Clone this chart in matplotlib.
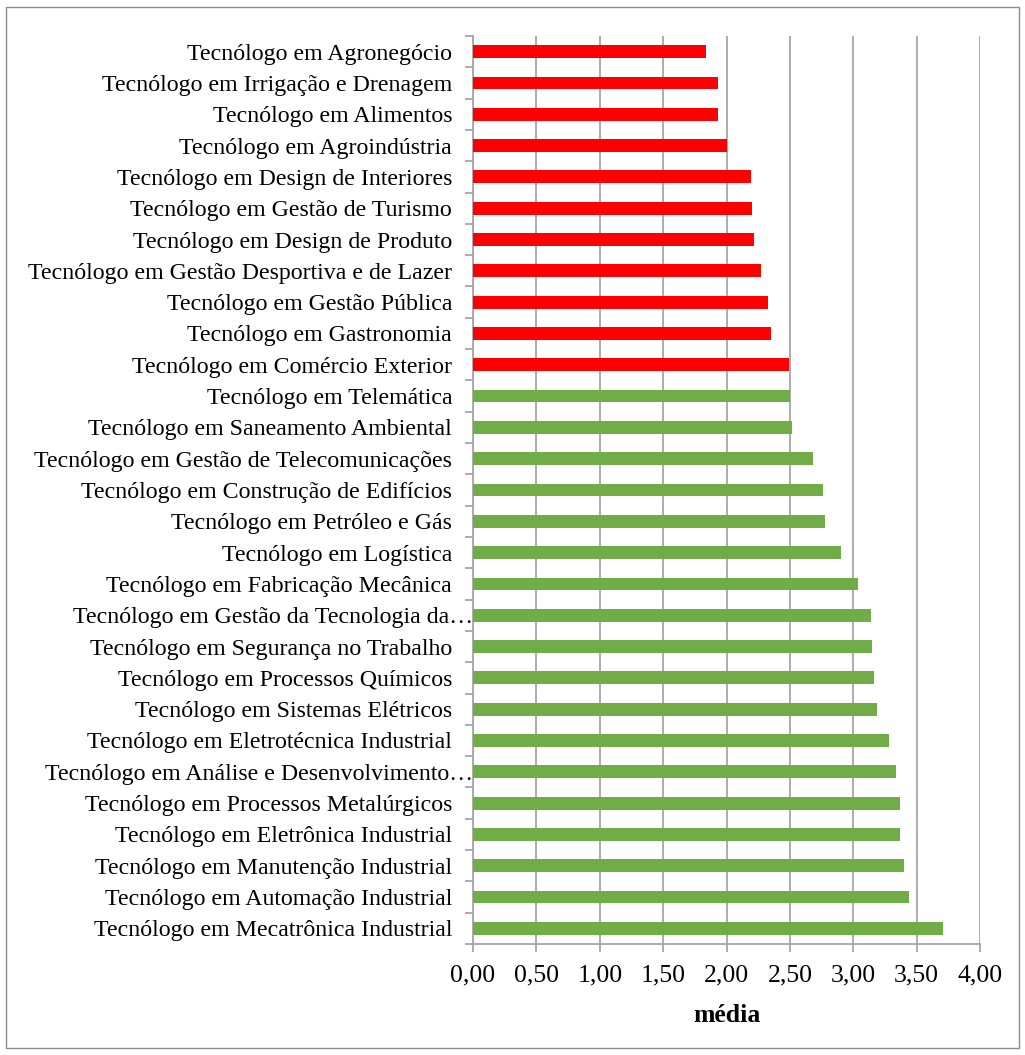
import matplotlib.pyplot as plt
from matplotlib.patches import Rectangle
from matplotlib.ticker import FuncFormatter, MultipleLocator

# courses, top to bottom as in the chart
cursos = [
    "Tecnólogo em Agronegócio",
    "Tecnólogo em Irrigação e Drenagem",
    "Tecnólogo em Alimentos",
    "Tecnólogo em Agroindústria",
    "Tecnólogo em Design de Interiores",
    "Tecnólogo em Gestão de Turismo",
    "Tecnólogo em Design de Produto",
    "Tecnólogo em Gestão Desportiva e de Lazer",
    "Tecnólogo em Gestão Pública",
    "Tecnólogo em Gastronomia",
    "Tecnólogo em Comércio Exterior",
    "Tecnólogo em Telemática",
    "Tecnólogo em Saneamento Ambiental",
    "Tecnólogo em Gestão de Telecomunicações",
    "Tecnólogo em Construção de Edifícios",
    "Tecnólogo em Petróleo e Gás",
    "Tecnólogo em Logística",
    "Tecnólogo em Fabricação Mecânica",
    "Tecnólogo em Gestão da Tecnologia da…",
    "Tecnólogo em Segurança no Trabalho",
    "Tecnólogo em Processos Químicos",
    "Tecnólogo em Sistemas Elétricos",
    "Tecnólogo em Eletrotécnica Industrial",
    "Tecnólogo em Análise e Desenvolvimento…",
    "Tecnólogo em Processos Metalúrgicos",
    "Tecnólogo em Eletrônica Industrial",
    "Tecnólogo em Manutenção Industrial",
    "Tecnólogo em Automação Industrial",
    "Tecnólogo em Mecatrônica Industrial",
]

media = [1.84, 1.93, 1.93, 2.00, 2.19, 2.20, 2.22, 2.27, 2.33, 2.35, 2.49,
         2.50, 2.52, 2.68, 2.76, 2.78, 2.90, 3.04, 3.14, 3.15, 3.16, 3.19,
         3.28, 3.34, 3.37, 3.37, 3.40, 3.44, 3.71]

# first 11 below 2.5 in red, rest in green
n_abaixo = 11
cores = ["#FF0000"] * n_abaixo + ["#70AD47"] * (len(cursos) - n_abaixo)

plt.rcParams['font.family'] = 'Liberation Serif'

fig = plt.figure(figsize=(10.25, 10.55), dpi=100)
ax = fig.add_axes([0.4615, 0.1052, 0.4946, 0.8607])

y = list(range(len(cursos)))
ax.barh(y, media, height=0.41, color=cores, zorder=3)

ax.set_xlim(0, 4)
ax.set_ylim(len(cursos) - 0.5, -0.5)

ax.xaxis.set_major_locator(MultipleLocator(0.5))
ax.xaxis.set_major_formatter(FuncFormatter(lambda v, p: f"{v:.2f}".replace(".", ",")))
ax.grid(axis="x", color="#a6a6a6", linewidth=1.3, zorder=0)

ax.set_yticks(y)
ax.set_yticklabels(cursos, fontsize=17.2)
ax.set_yticks([i - 0.5 for i in range(len(cursos) + 1)], minor=True)
ax.tick_params(axis="y", which="major", length=0, pad=15)
ax.tick_params(axis="y", which="minor", length=6, color="#a6a6a6", width=1.3)
ax.tick_params(axis="x", length=6, color="#a6a6a6", width=1.3, labelsize=18.5, pad=9)

# truncated labels sit right against the axis
for t, txt in zip(ax.yaxis.get_major_ticks(), cursos):
    if txt.endswith("…"):
        t.set_pad(0)

for s in ["top", "right"]:
    ax.spines[s].set_visible(False)
for s in ["left", "bottom"]:
    ax.spines[s].set_color("#a6a6a6")
    ax.spines[s].set_linewidth(1.3)

ax.set_xlabel("média", fontsize=18.5, fontweight="bold", labelpad=12)

# outer chart border
fig.patches.append(Rectangle((0.006, 0.007), 0.988, 0.986, transform=fig.transFigure,
                             fill=False, edgecolor="#8c8c8c", linewidth=1))

plt.savefig("out.png", dpi=100)
